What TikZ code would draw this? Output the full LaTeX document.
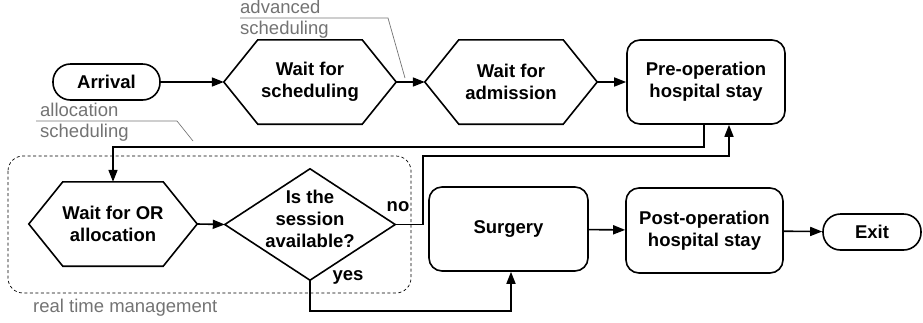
\documentclass[tikz,border=0pt]{standalone}
\usepackage{fontspec}
\setmainfont{Liberation Sans}
\usetikzlibrary{arrows.meta,calc}
\definecolor{notegray}{RGB}{115,115,115}
\tikzset{
  lbl/.style={font=\fontsize{18.5}{22}\selectfont\bfseries, align=center, inner sep=0pt},
  stay/.style={lbl, draw, line width=1.6pt, rounded corners=13pt},
  term/.style={lbl, draw, line width=1.6pt, rounded corners=17.5pt, minimum height=36pt},
  hextext/.style={lbl, minimum height=84pt},
  decide/.style={lbl, minimum width=170pt, minimum height=111pt, text depth=12pt},
  flow/.style={line width=1.6pt, -{Triangle[length=12pt,width=9pt]}},
  note/.style={font=\fontsize{18.5}{21}\selectfont, text=notegray, inner sep=0pt, anchor=base west},
  callout/.style={notegray, line width=0.7pt},
}
\def\hexin{34pt}
\def\hexbox(#1)(#2)#3#4{%
  \node[hextext, minimum width=#3] (#1) at (#2) {#4};
  \draw[line width=1.6pt] (#1.west) -- ([xshift=\hexin]#1.north west) -- ([xshift=-\hexin]#1.north east)
    -- (#1.east) -- ([xshift=-\hexin]#1.south east) -- ([xshift=\hexin]#1.south west) -- cycle;}
\def\diabox(#1)(#2)#3{%
  \node[decide] (#1) at (#2) {#3};
  \draw[line width=1.6pt] (#1.west) -- (#1.north) -- (#1.east) -- (#1.south) -- cycle;}

\begin{document}
\begin{tikzpicture}[x=1pt,y=-1pt]
		\path[use as bounding box] (0,0) rectangle (923,322);
		%%%%% top row %%%%%
		\node[term, minimum width=107pt] (arr) at (106.5,82) {Arrival};
		\hexbox(wsch)(310,82){172pt}{Wait for\\scheduling}
		\hexbox(wadm)(511,82){172pt}{Wait for\\admission}
		\node[stay, minimum width=158pt, minimum height=84pt] (pre) at (706,82) {Pre-operation\\hospital stay};
		
		\draw[flow] (arr) -- (wsch.west);
		\draw[flow] (wsch.east) -- (wadm.west);
		\draw[flow] (wadm.east) -- (pre);
		
		%%%%% real time management %%%%%
		\draw[dashed, dash pattern=on 3pt off 2.5pt, line width=0.7pt, rounded corners=15pt] (8,156) rectangle (411,293);
		\node[note] (rtm) at (33,312) {real time management};
		
		\hexbox(wor)(113,224){168pt}{Wait for OR\\allocation}
		\diabox(sess)(310,224.5){Is the\\session\\available?}
		\node[stay, minimum width=159pt, minimum height=84pt] (surg) at (508.5,229) {Surgery};
		\node[stay, minimum width=157pt, minimum height=85pt] (post) at (704.5,230.5) {Post-operation\\hospital stay};
		\node[term, minimum width=98pt] (exit) at (872,232) {Exit};
		
		\draw[flow] (wor.east) -- (sess.west);
		\draw[flow] (surg) -- (post);
		\draw[flow] (post) -- (exit);
		
		\draw[flow] ([xshift=-2pt]pre.south) -- ++(0,22) -| (wor.north);
		\coordinate (nobend) at (423,156);
		\draw[flow] (sess.east) -| (nobend) -| ([xshift=23pt]pre.south);
		\draw[flow] (sess.south) -- ++(0,31) -| ([xshift=2.5pt]surg.south);
		\node[lbl] (nolbl) at (398,207) {no};
		\node[lbl] (yeslbl) at (348,277) {yes};
		
		%%%%% notes %%%%%
		\node[note] (advtxt) at (240,13.5) {advanced};
		\node[note] (advtxt2) at (240,34) {scheduling};
		\draw[callout] (240,18) -- (388,18) -- (405,78);
		
		\node[note] (alltxt) at (40,116) {allocation};
		\node[note] (alltxt2) at (40,137) {scheduling};
		\draw[callout] (36,121) -- (177,121) -- (193,141);
	\end{tikzpicture}
\end{document}
